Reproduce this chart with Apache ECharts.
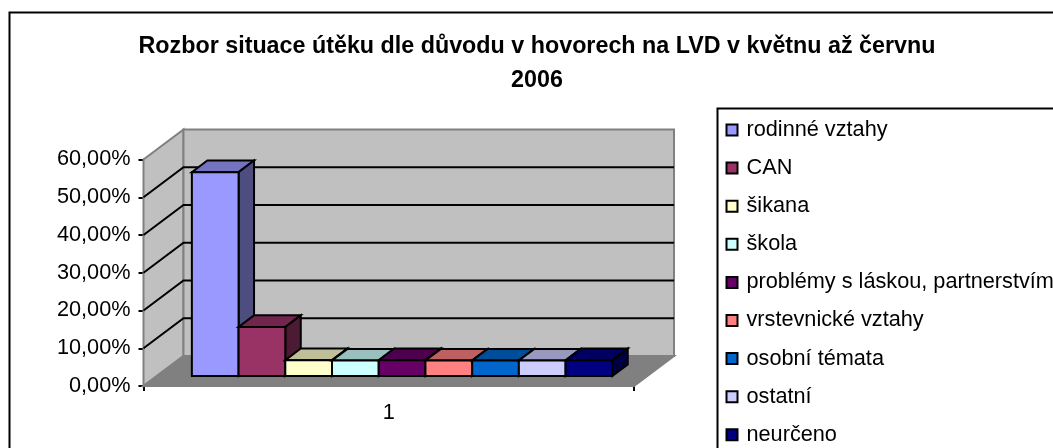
<!DOCTYPE html>
<html><head><meta charset="utf-8">
<style>html,body{margin:0;padding:0;background:#fff}#c{width:1053px;height:448px}</style>
<script src="https://cdn.jsdelivr.net/npm/echarts@6/dist/echarts.min.js"></script>
</head><body><div id="c"></div>
<script>
const titleText = 'Rozbor situace útěku dle důvodu v hovorech na LVD v květnu až červnu\n2006';
const categories = ['1'];
const seriesNames = ['rodinné vztahy','CAN','šikana','škola','problémy s láskou, partnerstvím','vrstevnické vztahy','osobní témata','ostatní','neurčeno'];
const seriesValues = [54.0,13.0,4.2,4.1,4.2,4.1,4.1,4.1,4.2];
const seriesColors = ['#9999FF','#993366','#FFFFCC','#CCFFFF','#660066','#FF8080','#0066CC','#CCCCFF','#000080'];
const yTicks = [0,10,20,30,40,50,60];

const DEPTH_X = 40, DEPTH_Y = 30;          // oblique projection of the floor
const BAR_NEAR = 1/3, BAR_FAR = 0.72;      // bars' place within the depth
const GAP = 1.5;                           // category gap, in bar widths
const FONT = '"Liberation Sans",Arial,sans-serif';

function shade(hex, f){
  const n = parseInt(hex.slice(1),16);
  const c = s => Math.round(((n>>s)&255)*f);
  return `rgb(${c(16)},${c(8)},${c(0)})`;
}
function poly(points, fill, stroke, lw){
  return {type:'polygon', shape:{points}, style:{fill, stroke, lineWidth:lw, lineJoin:'miter'}};
}
const off = (p,d) => [p[0]+DEPTH_X*d, p[1]-DEPTH_Y*d];

function renderWalls(params, api){
  const x0 = api.coord([0,0])[0]-api.size([1,0])[0]/2;
  const x1 = x0+api.size([1,0])[0];
  const yB = api.coord([0,0])[1], yT = api.coord([0,60])[1];
  const FL=[x0,yB], FR=[x1,yB], TL=[x0,yT];
  const TR=[x1,yT];
  const wall = '#808080';
  return {type:'group', children:[
    poly([FL,TL,off(TL,1),off(FL,1)],'#C0C0C0',wall,2),
    poly([off(FL,1),off(TL,1),off(TR,1),off(FR,1)],'#C0C0C0',wall,2),
    poly([FL,FR,off(FR,1),off(FL,1)],'#808080',wall,2)
  ]};
}
function renderGrid(params, api){
  const v = api.value(0);
  if (v===0) return {type:'group',children:[]};
  const band = api.size([1,0])[0];
  const x0 = api.coord([0,0])[0]-band/2, x1 = x0+band, y = api.coord([0,v])[1];
  const a=[x0,y], b=off(a,1), c=off([x1,y],1);
  const s={stroke:'#000',lineWidth:v===60?0:2,fill:'none'};
  return {type:'polyline',shape:{points:v===60?[a,a]:[a,b,c]},style:s};
}
const bar = idx => function(params, api){
  const v = api.value(1);
  const band = api.size([1,0])[0];
  const w = band/(seriesNames.length+GAP);
  const xc = api.coord([0,0])[0];
  const xl = xc-band/2+w*GAP/2+w*idx, xr = xl+w;
  const y0 = api.coord([0,0])[1], yv = api.coord([0,v])[1];
  const c = seriesColors[idx];
  const A=off([xl,y0],BAR_NEAR),B=off([xr,y0],BAR_NEAR),C=off([xr,yv],BAR_NEAR),D=off([xl,yv],BAR_NEAR);
  const d=BAR_FAR-BAR_NEAR;
  return {type:'group',children:[
    poly([D,C,off(C,d),off(D,d)],shade(c,.75),'#000',2),
    poly([B,C,off(C,d),off(B,d)],shade(c,.5),'#000',2),
    poly([A,B,C,D],c,'#000',2)
  ]};
};

const chart = echarts.init(document.getElementById('c'),null,{renderer:'canvas'});
chart.setOption({
  animation:false,
  backgroundColor:'#fff',
  textStyle:{fontFamily:FONT},
  title:{text:titleText,left:537,top:30,padding:0,textAlign:'center',
    textStyle:{fontSize:23.3,fontWeight:'bold',color:'#000',lineHeight:34,fontFamily:FONT}},
  grid:{left:143.5,right:419,top:159.5,bottom:62,containLabel:false},
  xAxis:{type:'category',data:categories,
    axisLine:{lineStyle:{color:'#000',width:2}},
    axisTick:{show:true,length:5,alignWithLabel:false,lineStyle:{color:'#000',width:2}},
    axisLabel:{color:'#000',fontSize:21.7,margin:16,fontFamily:FONT},
    splitLine:{show:false}},
  yAxis:{type:'value',min:0,max:60,interval:10,
    axisLine:{show:true,lineStyle:{color:'#000',width:2}},
    axisTick:{show:true,length:5,lineStyle:{color:'#000',width:2}},
    axisLabel:{color:'#000',fontSize:21.7,margin:13,fontFamily:FONT,
      formatter:v=>v.toFixed(2).replace('.',',')+'%'},
    splitLine:{show:false}},
  legend:{orient:'vertical',left:725.5,top:119,height:329,itemWidth:11,itemHeight:11,itemGap:16.1,
    icon:'rect',align:'left',
    data:seriesNames,
    itemStyle:{borderColor:'#000',borderWidth:2},
    textStyle:{color:'#000',fontSize:21.7,padding:[0,0,0,4],lineHeight:21,fontFamily:FONT},
    padding:0,selectedMode:false},
  graphic:[
    {type:'rect',silent:true,z:-1,shape:{x:9.5,y:12.5,width:1100,height:500},style:{fill:'#fff',stroke:'#000',lineWidth:2}},
    {type:'rect',silent:true,z:-1,shape:{x:717.5,y:108.5,width:500,height:500},style:{fill:'#fff',stroke:'#000',lineWidth:2}}
  ],
  series:[
    {type:'custom',name:'_walls',coordinateSystem:'cartesian2d',renderItem:renderWalls,data:[[0,0]],z:1,silent:true,clip:false},
    {type:'custom',name:'_grid',coordinateSystem:'cartesian2d',renderItem:renderGrid,encode:{y:0},data:yTicks.map(v=>[v]),z:2,silent:true,clip:false},
    ...seriesNames.map((n,i)=>({type:'custom',name:n,coordinateSystem:'cartesian2d',renderItem:bar(i),
      itemStyle:{color:seriesColors[i]},encode:{x:0,y:1},data:[[0,seriesValues[i]]],z:3,silent:true,clip:false}))
  ]
});
</script></body></html>
